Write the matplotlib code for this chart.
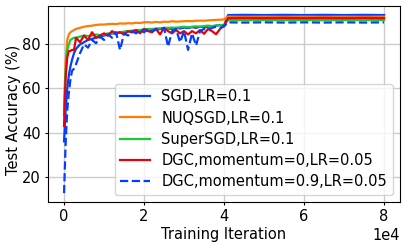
import numpy as np
import matplotlib.pyplot as plt

# evaluation iterations
iters = [0, 400, 800, 1200, 1600, 2000, 2500, 3000] + list(range(4000, 41000, 1000)) + \
        [41000, 45000, 50000, 55000, 60000, 65000, 70000, 75000, 80000]

sgd = [36, 50, 60, 66, 70, 73, 76, 78, 80, 81, 82, 82.5, 83, 83.5, 84, 84.5, 85, 84.8,
       85.5, 85.2, 86, 85.5, 86.5, 86, 86.8, 86.2, 87, 86.5, 87, 86.8, 87.2, 87, 87.5, 87.2,
       87.6, 87.4, 87.8, 87.5, 88, 87.8, 88, 88.2, 88.5, 88.8, 88.4,
       93.3, 93.4, 93.3, 93.4, 93.3, 93.4, 93.3, 93.4, 93.3]
nuqsgd = [50, 72, 82, 84.5, 85.5, 86, 86.5, 87, 87.5, 88, 88.3, 88.5, 88.8, 89, 89, 89.2,
          89.3, 89.2, 89.5, 89.4, 89.6, 89.5, 89.8, 89.7, 90, 90.1, 89.9, 90.2, 90, 90.3,
          90.2, 90.5, 90.3, 90.4, 90.5, 90.6, 90.5, 90.7, 90.8, 90.7, 90.9, 91, 91.1, 91.2, 91.3,
          92.6, 92.5, 92.6, 92.5, 92.6, 92.5, 92.6, 92.5, 92.6]
supersgd = [48, 68, 77, 80, 82, 82.5, 83, 83, 83.5, 84, 83.8, 84, 84.5, 84.2, 84.5, 85,
            85, 85.3, 85.5, 85.8, 86, 86.2, 86.5, 86.5, 86.8, 87, 87, 87.2, 87.3, 87.5, 87.5,
            87.6, 87.5, 87.8, 88, 87.8, 88, 88.2, 88, 88.3, 88.5, 88.3, 88.5, 88.7, 88.8,
            91.1, 91.0, 91.1, 91.0, 91.1, 91.0, 91.1, 91.0, 91.1]
dgc = [43, 65, 74, 77, 77, 77.5, 77.5, 83, 81, 84, 82, 85.5, 83, 84, 85, 84, 86, 85,
       85.5, 84.5, 86, 85.5, 86.5, 85, 87, 86, 85.5, 87, 84.5, 87.5, 86, 85, 86.5, 85, 86,
       84.5, 86, 85, 86.5, 84.8, 87, 86, 84.6, 87, 88.5,
       91.9, 92.0, 91.9, 92.0, 91.9, 92.0, 91.9, 92.0, 91.9]
dgc_m = [12.5, 35, 50, 58, 64, 68, 69, 71, 76, 80, 78.5, 82, 80.5, 83.5, 82, 84.5, 83,
         85.5, 77.5, 85, 84, 86, 85, 86.5, 85.5, 87, 86, 87, 86.5, 87.5, 79, 86, 87, 81, 86,
         77.5, 85, 79.5, 86, 87, 86.5, 87.5, 88, 87.5, 88.2,
         90, 89.9, 90, 89.9, 90, 89.9, 90, 89.9, 90]

labels = ["SGD,LR=0.1", "NUQSGD,LR=0.1", "SuperSGD,LR=0.1",
          "DGC,momentum=0,LR=0.05", "DGC,momentum=0.9,LR=0.05"]
colors = ['#023eff', '#ff7c00', '#1ac938', '#e8000b', '#023eff']

plt.rcParams['font.size'] = 10.5

fig, ax = plt.subplots(figsize=(4.07, 2.47), dpi=100)
series = [sgd, nuqsgd, supersgd, dgc, dgc_m]
for i, ys in enumerate(series):
    ls = '--' if i == 4 else '-'
    ax.plot(iters, ys, color=colors[i], ls=ls, lw=1.6, label=labels[i])

ax.set_xlabel('Training Iteration', labelpad=2)
ax.set_ylabel('Test Accuracy (%)')
ax.yaxis.set_label_coords(-0.076, 0.47)
ax.tick_params(length=2.5, pad=2.5)
ax.ticklabel_format(axis='x', style='sci', scilimits=(0, 0))
ax.grid(True, color='#cccccc', lw=1)
ax.legend(loc='lower right', borderaxespad=0.5, handlelength=2.0, labelspacing=0.42)

fig.subplots_adjust(left=0.118, right=0.983, top=0.976, bottom=0.182)
fig.savefig('out.png', dpi=100)
